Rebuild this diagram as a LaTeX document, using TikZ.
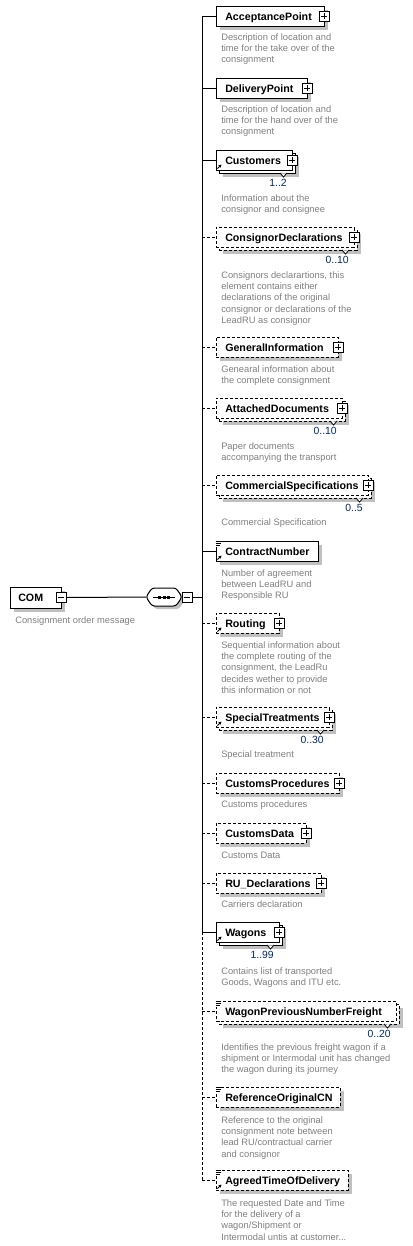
\documentclass[tikz,border=0pt]{standalone}
\usepackage{fontspec}
\setmainfont{Liberation Sans}
\usetikzlibrary{arrows.meta}
\definecolor{descc}{RGB}{128,128,128}
\definecolor{shadowc}{RGB}{192,192,192}
\definecolor{multc}{RGB}{0,40,110}
\tikzset{
  ebox/.style={draw, fill=white, line width=0.75pt, minimum height=15pt, inner sep=0pt, outer sep=0pt},
  opt/.style={dash pattern=on 2.25pt off 1.5pt},
  req/.style={solid},
  ename/.style={anchor=west, inner sep=0pt, font=\fontsize{8}{10}\selectfont\bfseries, text height=6pt, text depth=0pt},
  descf/.style={anchor=north west, align=left, inner sep=0pt, font=\fontsize{7}{8.5}\selectfont, text=descc},
  multf/.style={anchor=east, inner sep=0pt, font=\fontsize{7.8}{9}\selectfont, text=multc, text height=5.5pt, text depth=0pt},
  iconbox/.style={draw, fill=white, line width=0.75pt, minimum size=7.5pt, inner sep=0pt, outer sep=0pt},
  conn/.style={line width=0.75pt},
}
\newcommand\xsingle[5]{%
  \fill[shadowc] (220,#2-6) rectangle (#3+4,#2+14);
  \node[ebox,#5,anchor=west,minimum width={(#3-216)*0.75pt}] (#1) at (216,#2) {};
  \node[ename] (#1-n) at (225,#2) {#4};}
\newcommand\xstack[5]{%
  \fill[shadowc] (223,#2-3) rectangle (#3+7,#2+17);
  \node[ebox,#5,anchor=west,minimum width={(#3-216)*0.75pt}] (#1-b) at (219,#2+3) {};
  \node[ebox,#5,anchor=west,minimum width={(#3-216)*0.75pt}] (#1) at (216,#2) {};
  \node[ename] (#1-n) at (225,#2) {#4};
  \fill[white] (#3-12,#2+13.4) -- (#3-5,#2+13.4) -- (#3-8.5,#2+17) -- cycle;
  \draw[line width=0.6pt] (#3-12,#2+13) -- (#3-8.5,#2+17) -- (#3-5,#2+13);}
\newcommand\xmult[4]{\node[multf] (#1) at (#3-5,#2+23) {#4};}
\newcommand\xplus[3]{%
  \node[iconbox] (#1) at (#2,#3) {};
  \draw[line width=0.6pt] (#2-3,#3) -- (#2+3,#3) (#2,#3-3) -- (#2,#3+3);}
\newcommand\xminus[3]{%
  \node[iconbox] (#1) at (#2,#3) {};
  \draw[line width=0.6pt] (#2-3,#3) -- (#2+3,#3);}
\newcommand\xeq[1]{%
  \fill[white] (215.3,#1-10.6) rectangle (221,#1-4.5);
  \draw[line width=0.6pt] (215.5,#1-10) -- (220.5,#1-10) (215.5,#1-8) -- (220.5,#1-8) (215.5,#1-6) -- (219.5,#1-6);}
\newcommand\xref[1]{%
  \draw[line width=0.7pt,-{Stealth[length=2.4pt,width=2.4pt]}] (217.5,#1+8.5) -- (221.5,#1+4.5);}
\newcommand\xdesc[3]{\node[descf] (#1) at (221,#2-4.9) {\strut #3};}
\begin{document}
\begin{tikzpicture}[x=0.75pt,y=-0.75pt]
\useasboundingbox (0,0) rectangle (412,1246);
\fill[white] (0,0) rectangle (412,1246);

% trunk coordinates
\coordinate (j-ap) at (202,16);
\coordinate (j-dp) at (202,88);
\coordinate (j-cu) at (202,160);
\coordinate (j-cd) at (202,237);
\coordinate (j-gi) at (202,347);
\coordinate (j-ad) at (202,408);
\coordinate (j-cs) at (202,485);
\coordinate (j-cn) at (202,551);
\coordinate (j-seq) at (202,597);
\coordinate (j-ro) at (202,623);
\coordinate (j-st) at (202,717);
\coordinate (j-cp) at (202,783);
\coordinate (j-cda) at (202,833);
\coordinate (j-ru) at (202,883);
\coordinate (j-wa) at (202,932);
\coordinate (j-wp) at (202,1011);
\coordinate (j-rc) at (202,1097);
\coordinate (j-at) at (202,1180);

% COM element
\fill[shadowc] (14,591) rectangle (65,612);
\node[ebox,anchor=west,minimum width={51*0.75pt},minimum height={21*0.75pt}] (com) at (10,597.5) {};
\node[ename] (com-n) at (18,597.5) {COM};
\xminus{com-m}{61}{597.5}
\node[descf] (com-d) at (15,620-4.9) {\strut Consignment order message};

% sequence compositor
\fill[shadowc,rounded corners=2pt] (149,600) -- (155,591) -- (179,591) -- (185,600) -- (179,609) -- (155,609) -- cycle;
\draw[line width=0.75pt,fill=white,rounded corners=2pt] (146,597) -- (152,588) -- (176,588) -- (182,597) -- (176,606) -- (152,606) -- cycle;
\coordinate (seq-w) at (146,597);
\draw[line width=0.75pt] (153,597) -- (175,597);
\fill (158,595.5) rectangle (161,598.5);
\fill (162.5,595.5) rectangle (165.5,598.5);
\fill (167,595.5) rectangle (170,598.5);
\xminus{seq-m}{187}{597}
\draw[conn] (com-m.east) -- (seq-w);
\draw[conn] (seq-m.east) -- (j-seq);

% trunk
\draw[conn] (j-ap) -- (j-wa);
\draw[conn,opt] (j-wa) -- (j-at);

% horizontal connectors
\draw[conn] (j-ap) -- (216,16);
\draw[conn] (j-dp) -- (216,88);
\draw[conn] (j-cu) -- (216,160);
\draw[conn,opt] (j-cd) -- (216,237);
\draw[conn,opt] (j-gi) -- (216,347);
\draw[conn,opt] (j-ad) -- (216,408);
\draw[conn,opt] (j-cs) -- (216,485);
\draw[conn] (j-cn) -- (216,551);
\draw[conn,opt] (j-ro) -- (216,623);
\draw[conn,opt] (j-st) -- (216,717);
\draw[conn,opt] (j-cp) -- (216,783);
\draw[conn,opt] (j-cda) -- (216,833);
\draw[conn,opt] (j-ru) -- (216,883);
\draw[conn] (j-wa) -- (216,932);
\draw[conn,opt] (j-wp) -- (216,1011);
\draw[conn,opt] (j-rc) -- (216,1097);
\draw[conn,opt] (j-at) -- (216,1180);

% elements
\xsingle{ap}{16}{324}{AcceptancePoint}{req}
\xplus{ap-p}{324}{16}
\xdesc{ap-d}{37}{Description of location and\\time for the take over of the\\consignment}

\xsingle{dp}{88}{307}{DeliveryPoint}{req}
\xplus{dp-p}{307}{88}
\xdesc{dp-d}{109}{Description of location and\\time for the hand over of the\\consignment}

\xstack{cu}{160}{292}{Customers}{req}
\xplus{cu-p}{292}{160}
\xref{160}
\xmult{cu-m}{160}{292}{1..2}
\xdesc{cu-d}{198}{Information about the\\consignor and consignee}

\xstack{cd}{237}{354}{ConsignorDeclarations}{opt}
\xplus{cd-p}{354}{237}
\xmult{cd-m}{237}{354}{0..10}
\xdesc{cd-d}{275}{Consignors declarartions, this\\element contains either\\declarations of the original\\consignor or declarations of the\\LeadRU as consignor}

\xsingle{gi}{347}{338}{GeneralInformation}{opt}
\xplus{gi-p}{338}{347}
\xdesc{gi-d}{369}{Genearal information about\\the complete consignment}

\xstack{ad}{408}{342}{AttachedDocuments}{opt}
\xplus{ad-p}{342}{408}
\xmult{ad-m}{408}{342}{0..10}
\xdesc{ad-d}{446}{Paper documents\\accompanying the transport}

\xstack{cs}{485}{368}{CommercialSpecifications}{opt}
\xplus{cs-p}{368}{485}
\xmult{cs-m}{485}{368}{0..5}
\xdesc{cs-d}{522}{Commercial Specification}

\xsingle{cn}{551}{318}{ContractNumber}{req}
\xeq{551}
\xref{551}
\xdesc{cn-d}{573}{Number of agreement\\between LeadRU and\\Responsible RU}

\xsingle{ro}{623}{279}{Routing}{opt}
\xplus{ro-p}{279}{623}
\xref{623}
\xdesc{ro-d}{645}{Sequential information about\\the complete routing of the\\consignment, the LeadRu\\decides wether to provide\\this information or not}

\xstack{st}{717}{329}{SpecialTreatments}{opt}
\xplus{st-p}{329}{717}
\xref{717}
\xmult{st-m}{717}{329}{0..30}
\xdesc{st-d}{754}{Special treatment}

\xsingle{cp}{783}{339}{CustomsProcedures}{opt}
\xplus{cp-p}{339}{783}
\xdesc{cp-d}{804}{Customs procedures}

\xsingle{cda}{833}{306}{CustomsData}{opt}
\xplus{cda-p}{306}{833}
\xdesc{cda-d}{855}{Customs Data}

\xsingle{ru}{883}{321}{RU\_Declarations}{opt}
\xplus{ru-p}{321}{883}
\xdesc{ru-d}{904}{Carriers declaration}

\xstack{wa}{932}{279}{Wagons}{req}
\xplus{wa-p}{279}{932}
\xref{932}
\xmult{wa-m}{932}{279}{1..99}
\xdesc{wa-d}{971}{Contains list of transported\\Goods, Wagons and ITU etc.}

\xstack{wp}{1011}{396}{WagonPreviousNumberFreight}{opt}
\xeq{1011}
\xmult{wp-m}{1011}{396}{0..20}
\xdesc{wp-d}{1047}{Identifies the previous freight wagon if a\\shipment or Intermodal unit has changed\\the wagon during its journey}

\xsingle{rc}{1097}{340}{ReferenceOriginalCN}{opt}
\xeq{1097}
\xdesc{rc-d}{1120}{Reference to the original\\consignment note between\\lead RU/contractual carrier\\and consignor}

\xsingle{at}{1180}{348}{AgreedTimeOfDelivery}{opt}
\xeq{1180}
\xref{1180}
\xdesc{at-d}{1203}{The requested Date and Time\\for the delivery of a\\wagon/Shipment or\\Intermodal untis at customer...}
\end{tikzpicture}
\end{document}
